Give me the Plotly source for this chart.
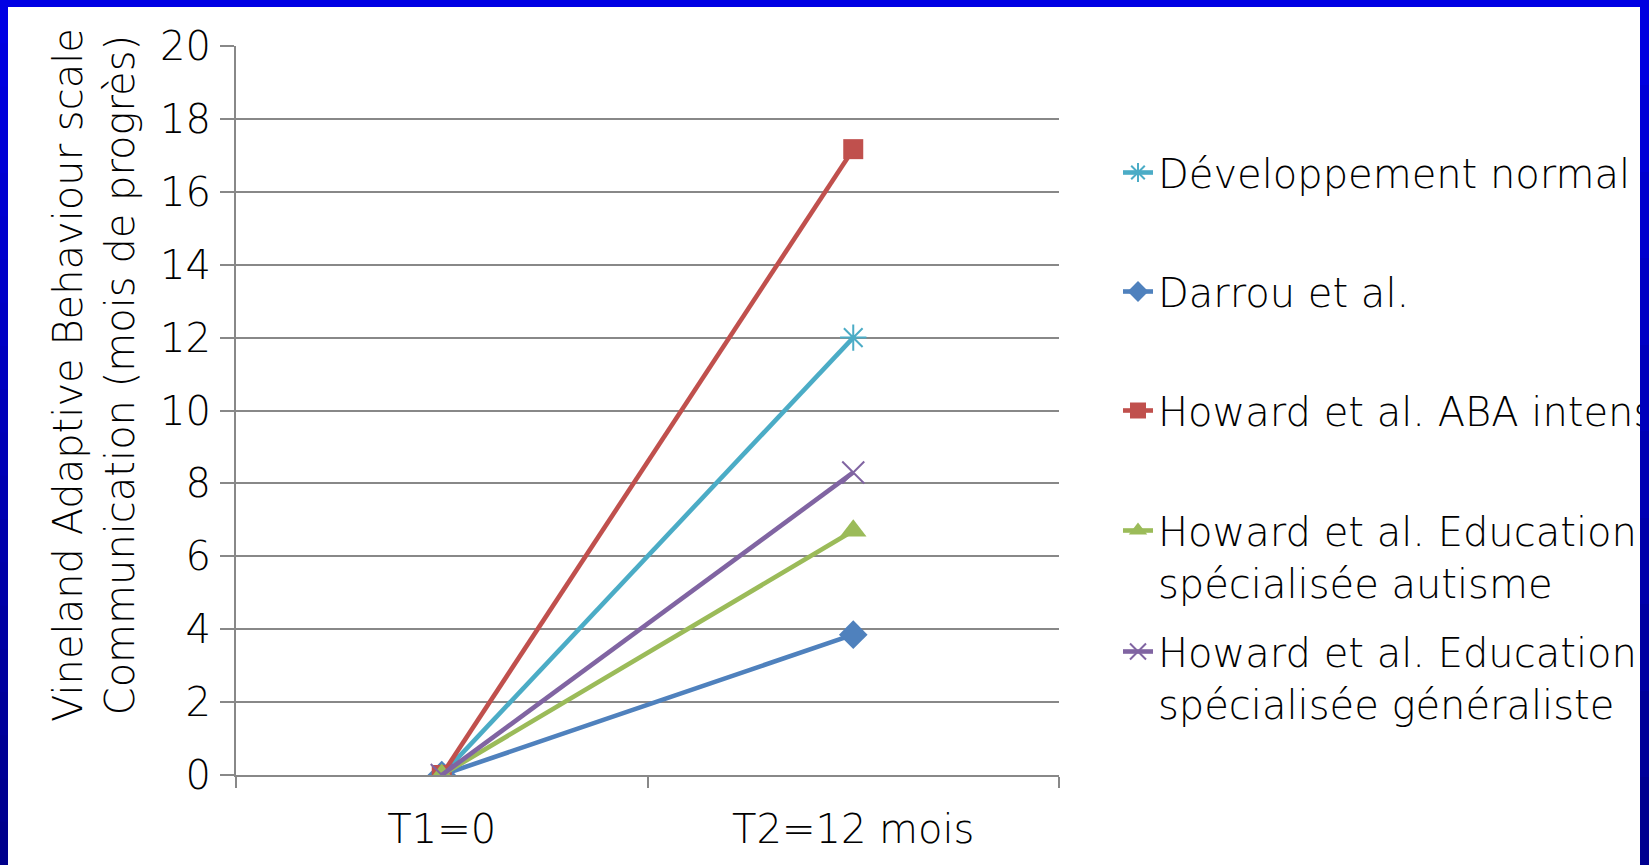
import plotly.graph_objects as go

# ---------------- data ----------------
categories = ["T1=0", "T2=12 mois"]
series_names = [
    "Développement normal",
    "Darrou et al.",
    "Howard et al. ABA intensive",
    "Howard et al. Education<br>spécialisée autisme",
    "Howard et al. Education<br>spécialisée généraliste",
]
dev_normal = [0, 12.0]
darrou = [0, 3.85]
howard_aba = [0, 17.17]
howard_autisme = [0, 6.7]
howard_generaliste = [0, 8.3]
y_title = "Vineland Adaptive Behaviour scale<br>Communication (mois de progrès)"
y_ticks = [0, 2, 4, 6, 8, 10, 12, 14, 16, 18, 20]

# ---------------- layout geometry ----------------
W, H = 1649, 865
L, R, T, B = 236, 1059, 46, 775


def px_x(px):
    return (px - L) / (R - L)


def px_y(py):
    return (B - py) / (B - T)


FONT = "DejaVu Sans"
FW = 200
FS = 40
colors = ["#4BACC6", "#4F81BD", "#C0504D", "#9BBB59", "#8064A2"]
symbols = ["asterisk-open", "diamond", "square", "triangle-up", "x-thin-open"]
sizes = [22, 22, 20, 23, 22]
values = [dev_normal, darrou, howard_aba, howard_autisme, howard_generaliste]
legend_ids = ["legend", "legend2", "legend3", "legend4", "legend5"]
legend_rows = [168, 287, 406, 526, 647]

fig = go.Figure()
for i in range(5):
    open_sym = symbols[i].endswith("open")
    fig.add_trace(go.Scatter(
        x=categories, y=values[i], name=series_names[i],
        mode="lines+markers",
        line=dict(color=colors[i], width=4.6),
        marker=dict(symbol=symbols[i], size=sizes[i], color=colors[i],
                    line=dict(color=colors[i], width=2 if open_sym else 0)),
        legend=legend_ids[i],
    ))

# background: blue gradient frame + white inner area
shapes = []
nb = 20
top_c = (0, 0, 228)
bot_c = (0, 0, 140)
for k in range(nb):
    f = k / (nb - 1)
    c = tuple(int(round(top_c[j] + (bot_c[j] - top_c[j]) * f)) for j in range(3))
    y0 = H * k / nb
    y1 = H * (k + 1) / nb + 1
    shapes.append(dict(type="rect", xref="paper", yref="paper", layer="below",
                       x0=px_x(0), x1=px_x(W), y0=px_y(y1), y1=px_y(y0),
                       fillcolor="rgb(%d,%d,%d)" % c, line=dict(width=0)))
shapes.append(dict(type="rect", xref="paper", yref="paper", layer="below",
                   x0=px_x(8), x1=px_x(1640), y0=px_y(H + 5), y1=px_y(7),
                   fillcolor="white", line=dict(width=0)))

annotations = [dict(
    text=y_title, textangle=-90, xref="paper", yref="paper",
    x=px_x(94), y=px_y(375), xanchor="center", yanchor="middle",
    showarrow=False, font=dict(family=FONT, size=FS, color="#000000", weight=FW),
)]
# right frame edge drawn above legend so the long legend text is clipped like the original
nr = 10
for k in range(nr):
    f = (k + 0.5) / nr
    c = tuple(int(round(top_c[j] + (bot_c[j] - top_c[j]) * f)) for j in range(3))
    col = "rgb(%d,%d,%d)" % c
    yc = H * (k + 0.5) / nr
    annotations.append(dict(
        text=".", xref="paper", yref="paper", x=px_x(1644.5), y=px_y(yc),
        xanchor="center", yanchor="middle", showarrow=False,
        width=9, height=H / nr + 2, borderpad=0, borderwidth=0,
        bgcolor=col, font=dict(size=4, color=col),
    ))

layout = dict(
    width=W, height=H,
    margin=dict(l=L, r=W - R, t=T, b=H - B, pad=0, autoexpand=False),
    paper_bgcolor="white", plot_bgcolor="rgba(0,0,0,0)",
    font=dict(family=FONT, size=FS, color="#000000", weight=FW),
    xaxis=dict(type="category", categoryorder="array", categoryarray=categories,
               range=[-0.5, 1.5], tickson="boundaries", ticks="outside",
               ticklen=11, tickwidth=2, tickcolor="#888888",
               showline=True, linecolor="#888888", linewidth=2,
               showgrid=False, zeroline=False,
               tickfont=dict(family=FONT, size=FS, weight=FW), ticklabelstandoff=18),
    yaxis=dict(range=[0, 20], tickvals=y_ticks, ticks="outside", ticklen=14,
               tickwidth=2, tickcolor="#888888",
               showline=True, linecolor="#888888", linewidth=2,
               showgrid=True, gridcolor="#888888", gridwidth=2, zeroline=False,
               tickfont=dict(family=FONT, size=FS, weight=FW), ticklabelstandoff=1),
    shapes=shapes, annotations=annotations,
    showlegend=True,
)
for i, lid in enumerate(legend_ids):
    layout[lid] = dict(x=px_x(1118), y=px_y(legend_rows[i] - 28), xanchor="left",
                       yanchor="top", bgcolor="rgba(0,0,0,0)", borderwidth=0,
                       valign="top", font=dict(family=FONT, size=FS, weight=FW),
                       itemwidth=30)
fig.update_layout(**layout)
fig.write_html("out.html", config={"displayModeBar": False},
               post_script="document.body.style.margin='0';document.body.style.overflow='hidden';")
